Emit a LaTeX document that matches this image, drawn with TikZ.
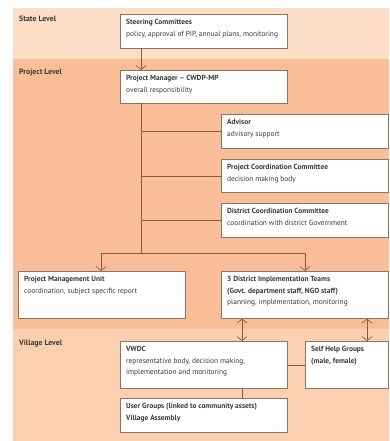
\documentclass[tikz,border=0pt]{standalone}
\usepackage{fontspec}
\setmainfont{PT Sans}
\usetikzlibrary{arrows.meta}
\definecolor{bgstate}{RGB}{252,221,198}
\definecolor{bgproj}{RGB}{249,189,152}
\definecolor{bgvill}{RGB}{251,207,176}
\definecolor{boxline}{RGB}{140,115,100}
\definecolor{conn}{RGB}{135,90,65}
\definecolor{txt}{RGB}{60,55,55}
\begin{document}
\begin{tikzpicture}[x=1pt,y=-1pt,
  box/.style={draw=boxline,line width=0.7pt,fill=white,anchor=north west,inner sep=0pt,minimum width=167pt,minimum height=34pt},
  lbl/.style={anchor=north west,inner sep=0pt,align=left,text=txt,font=\fontsize{7.4}{11.6}\selectfont},
  lvl/.style={anchor=west,inner sep=0pt,text=txt,font=\fontsize{7.8}{10}\selectfont\bfseries},
  con/.style={draw=conn,line width=0.7pt},
  arr/.style={con,-{Straight Barb[length=4pt,width=10pt]}},
  darr/.style={con,{Straight Barb[length=4pt,width=10pt]}-{Straight Barb[length=4pt,width=10pt]}}]
\useasboundingbox (0,0) rectangle (389,441);
\fill[white] (0,0) rectangle (389,441);
\fill[bgstate] (13,8) rectangle (389,59);
\fill[bgproj] (13,59) rectangle (389,329);
\fill[bgvill] (13,329) rectangle (389,441);
\node[lvl] (lstate) at (19,19) {State Level};
\node[lvl] (lproj) at (19,73) {Project Level};
\node[lvl] (lvill) at (19,344) {Village Level};
% boxes
\node[box] (sc) at (120,14) {};
\node[box,minimum height=33pt] (pm) at (120,70) {};
\node[box] (adv) at (221,114) {};
\node[box,minimum height=33pt] (pcc) at (221,159) {};
\node[box] (dcc) at (221,203) {};
\node[box,minimum height=47pt] (pmu) at (18,271) {};
\node[box,minimum height=47pt] (dit) at (221,271) {};
\node[box,minimum height=47pt] (vwdc) at (120,341) {};
\node[box,minimum height=47pt,minimum width=83pt] (shg) at (305,341) {};
\node[box] (ug) at (120,398) {};
% texts
\node[lbl] (tsc) at ([shift={(6,5)}]sc.north west) {\textbf{Steering Committees}\\policy, approval of PIP, annual plans, monitoring};
\node[lbl] (tpm) at ([shift={(6,5)}]pm.north west) {\textbf{Project Manager – CWDP-MP}\\overall responsibility};
\node[lbl] (tadv) at ([shift={(6,5)}]adv.north west) {\textbf{Advisor}\\advisory support};
\node[lbl] (tpcc) at ([shift={(6,5)}]pcc.north west) {\textbf{Project Coordination Committee}\\decision making body};
\node[lbl] (tdcc) at ([shift={(6,5)}]dcc.north west) {\textbf{District Coordination Committee}\\coordination with district Government};
\node[lbl] (tpmu) at ([shift={(6,5)}]pmu.north west) {\textbf{Project Management Unit}\\coordination, subject specific report};
\node[lbl] (tdit) at ([shift={(6,5)}]dit.north west) {\textbf{3 District Implementation Teams}\\\textbf{(Govt. department staff, NGO staff)}\\planning, implementation, monitoring};
\node[lbl] (tvwdc) at ([shift={(6,5)}]vwdc.north west) {\textbf{VWDC}\\representative body, decision making,\\implementation and monitoring};
\node[lbl] (tshg) at ([shift={(6,5)}]shg.north west) {\textbf{Self Help Groups}\\\textbf{(male, female)}};
\node[lbl] (tug) at ([shift={(6,5)}]ug.north west) {\textbf{User Groups (linked to community assets)}\\\textbf{Village Assembly}};
% connectors
\coordinate (t) at (141,0);
\coordinate (j) at (141,253);
\coordinate (jl) at (101,253);
\coordinate (jr) at (305,253);
\coordinate (m) at (242,0);
\coordinate (r) at (367,0);
\draw[arr] (sc.south -| t) -- (pm.north -| t);
\draw[con] (pm.south -| t) -- (j);
\draw[con] (adv.west) -- (adv.west -| t);
\draw[con] (pcc.west) -- (pcc.west -| t);
\draw[con] (dcc.west) -- (dcc.west -| t);
\draw[con] (jl) -- (jr);
\draw[arr] (jl) -- (pmu.north -| jl);
\draw[arr] (jr) -- (dit.north -| jr);
\draw[darr] (dit.south -| m) -- (vwdc.north -| m);
\draw[darr] (dit.south -| r) -- (shg.north -| r);
\draw[con] (vwdc.east) -- (shg.west);
\draw[con] (vwdc.south -| m) -- (ug.north -| m);
\end{tikzpicture}
\end{document}
